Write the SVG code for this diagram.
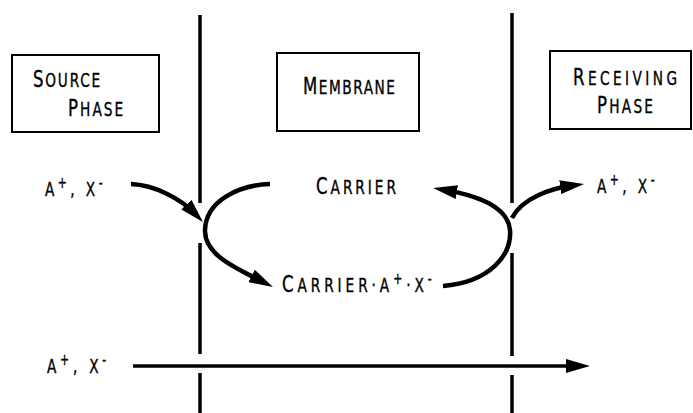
<svg xmlns="http://www.w3.org/2000/svg" width="693" height="413" viewBox="0 0 693 413">
<style>
.bg{fill:#fff}
.box{fill:#fff;stroke:#000;stroke-width:2}
.wall{stroke:#000;stroke-width:3.5;fill:none}
.flow{stroke:#000;stroke-width:4.5;fill:none;marker-end:url(#ah)}
.flow-thin{stroke:#000;stroke-width:3.5;fill:none;marker-end:url(#ah)}
text{font-family:"DejaVu Sans Condensed","DejaVu Sans",sans-serif;font-stretch:condensed;fill:#000;stroke:#000;stroke-width:0.35;font-size:19px}
.big{font-size:23px}
.sup{font-size:15px}
</style>
<defs>
<marker id="ah" markerUnits="userSpaceOnUse" markerWidth="24" markerHeight="14" refX="12" refY="7" orient="auto">
<path d="M0,0 L24,7 L0,14 Z" fill="#000"/>
</marker>
</defs>
<rect class="bg" x="0" y="0" width="693" height="413"/>

<g id="walls">
<path class="wall" d="M200,15 V203 M200,243 V354 M200,373 V413"/>
<path class="wall" d="M512,13 V203 M512,253 V356 M512,375 V413"/>
</g>

<g id="source-phase">
<rect class="box" x="12" y="55" width="147" height="77"/>
<text transform="translate(33,87) scale(0.8,1)" textLength="84" lengthAdjust="spacing"><tspan class="big">S</tspan>OURCE</text>
<text transform="translate(68,116) scale(0.8,1)" textLength="69" lengthAdjust="spacing"><tspan class="big">P</tspan>HASE</text>
</g>

<g id="membrane">
<rect class="box" x="277" y="53" width="142" height="78"/>
<text transform="translate(303,94) scale(0.8,1)" textLength="115" lengthAdjust="spacing"><tspan class="big">M</tspan>EMBRANE</text>
</g>

<g id="receiving-phase">
<rect class="box" x="550" y="51" width="141" height="78"/>
<text transform="translate(573,85) scale(0.8,1)" textLength="130" lengthAdjust="spacing"><tspan class="big">R</tspan>ECEIVING</text>
<text transform="translate(597,113) scale(0.8,1)" textLength="70" lengthAdjust="spacing"><tspan class="big">P</tspan>HASE</text>
</g>

<g id="carrier">
<text transform="translate(316,194) scale(0.8,1)" textLength="100" lengthAdjust="spacing"><tspan class="big">C</tspan>ARRIER</text>
</g>

<g id="carrier-complex">
<text transform="translate(282,292) scale(0.8,1)" textLength="187" lengthAdjust="spacing"><tspan class="big">C</tspan>ARRIER·A<tspan class="sup" dy="-8">+</tspan><tspan dy="8">·X</tspan><tspan class="sup" dy="-8">-</tspan></text>
</g>

<g id="ions-source">
<text transform="translate(45,196) scale(0.8,1)" textLength="72" lengthAdjust="spacing">A<tspan class="sup" dy="-8">+</tspan><tspan dy="8">, X</tspan><tspan class="sup" dy="-8">-</tspan></text>
</g>

<g id="ions-receiving">
<text transform="translate(597,193) scale(0.8,1)" textLength="72" lengthAdjust="spacing">A<tspan class="sup" dy="-8">+</tspan><tspan dy="8">, X</tspan><tspan class="sup" dy="-8">-</tspan></text>
</g>

<g id="ions-bottom">
<text transform="translate(47,373) scale(0.8,1)" textLength="74" lengthAdjust="spacing">A<tspan class="sup" dy="-8">+</tspan><tspan dy="8">, X</tspan><tspan class="sup" dy="-8">-</tspan></text>
</g>

<g id="connectors">
<path class="flow" d="M131,184 C155,185 181,199 194.7,213.3"/>
<path class="flow" d="M270,184 C240,185 206,200 205,230 C204,256 240,270 262.3,281.5"/>
<path class="flow" d="M443,286 C490,282 512,255 510,230 C508,208 480,196 445,190"/>
<path class="flow" d="M512,218 C522,198 552,188.3 572.1,185.6"/>
<path class="flow-thin" d="M133,366 H578"/>
</g>
</svg>
